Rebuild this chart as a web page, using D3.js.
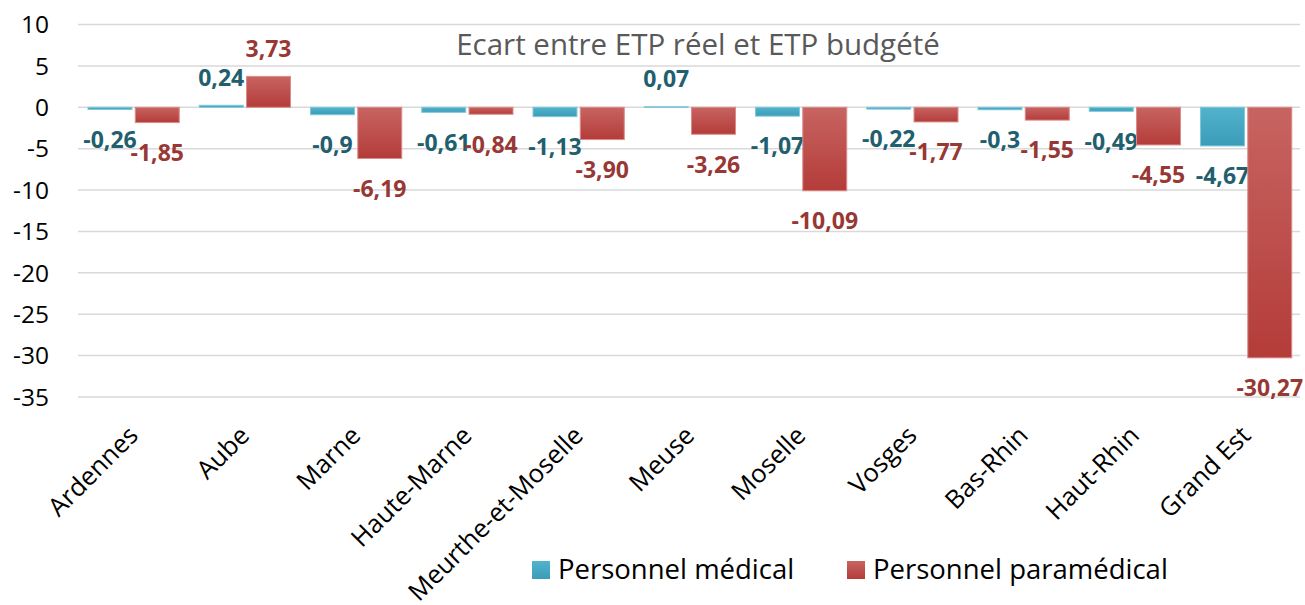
<!DOCTYPE html>
<html>
<head>
<meta charset="utf-8">
<script src="https://cdn.jsdelivr.net/npm/d3@7"></script>
<style>
  body { margin: 0; background: #fff; }
  svg { display: block; font-family: "Open Sans", sans-serif; }
</style>
</head>
<body>
<div id="chart"></div>
<script>
// data
var categories = ["Ardennes", "Aube", "Marne", "Haute-Marne", "Meurthe-et-Moselle",
  "Meuse", "Moselle", "Vosges", "Bas-Rhin", "Haut-Rhin", "Grand Est"];
var seriesNames = ["Personnel médical", "Personnel paramédical"];
var medical = [-0.26, 0.24, -0.9, -0.61, -1.13, 0.07, -1.07, -0.22, -0.3, -0.49, -4.67];
var paramedical = [-1.85, 3.73, -6.19, -0.84, -3.90, -3.26, -10.09, -1.77, -1.55, -4.55, -30.27];
// labels as they are printed (Excel keeps source formatting)
var medicalLabels = ["-0,26", "0,24", "-0,9", "-0,61", "-1,13", "0,07", "-1,07", "-0,22", "-0,3", "-0,49", "-4,67"];
var paramedicalLabels = ["-1,85", "3,73", "-6,19", "-0,84", "-3,90", "-3,26", "-10,09", "-1,77", "-1,55", "-4,55", "-30,27"];
var yTicks = [10, 5, 0, -5, -10, -15, -20, -25, -30, -35];

var width = 1305, height = 605;

var svg = d3.select("#chart").append("svg")
  .attr("width", width)
  .attr("height", height);

var defs = svg.append("defs");
function grad(id, top, bottom) {
  var g = defs.append("linearGradient").attr("id", id)
    .attr("x1", 0).attr("y1", 0).attr("x2", 0).attr("y2", 1);
  g.append("stop").attr("offset", "0%").attr("stop-color", top);
  g.append("stop").attr("offset", "100%").attr("stop-color", bottom);
}
grad("gBlue", "#52B3CC", "#3A9CB8");
grad("gRed", "#C76461", "#B43C39");

var y = d3.scaleLinear().domain([-35, 10]).range([397, 24.5]);
var x0 = d3.scaleBand().domain(categories).range([78, 1301.75]);
var x1 = d3.scaleBand().domain(seriesNames)
  .range([10, x0.bandwidth() - 10]).paddingInner(0.07);

// gridlines
svg.append("g").selectAll("line")
  .data(yTicks)
  .enter().append("line")
  .attr("x1", 78).attr("x2", 1300)
  .attr("y1", function(d) { return y(d); })
  .attr("y2", function(d) { return y(d); })
  .attr("stroke", "#D9D9D9")
  .attr("stroke-width", 1.5);

// y tick labels
svg.append("g").selectAll("text")
  .data(yTicks)
  .enter().append("text")
  .attr("x", 49)
  .attr("y", function(d) { return y(d); })
  .attr("dy", "0.36em")
  .attr("text-anchor", "end")
  .style("font-size", "24.5px")
  .attr("fill", "#000")
  .text(function(d) { return d; });

// title
svg.append("text")
  .attr("x", 698).attr("y", 55)
  .attr("text-anchor", "middle")
  .style("font-size", "29.5px")
  .attr("fill", "#595959")
  .text("Ecart entre ETP réel et ETP budgété");

var series = [
  { name: seriesNames[0], values: medical, labels: medicalLabels, fill: "url(#gBlue)", stroke: "#7FC8DB", labelColor: "#215E6E" },
  { name: seriesNames[1], values: paramedical, labels: paramedicalLabels, fill: "url(#gRed)", stroke: "#D98C8A", labelColor: "#983835" }
];

series.forEach(function(s) {
  var g = svg.append("g");
  g.selectAll("rect")
    .data(s.values)
    .enter().append("rect")
    .attr("x", function(d, i) { return x0(categories[i]) + x1(s.name); })
    .attr("width", x1.bandwidth())
    .attr("y", function(d) { return y(Math.max(0, d)); })
    .attr("height", function(d) { return Math.abs(y(d) - y(0)); })
    .attr("fill", s.fill)
    .attr("stroke", s.stroke)
    .attr("stroke-width", 1);

  g.selectAll("text")
    .data(s.values)
    .enter().append("text")
    .attr("x", function(d, i) { return x0(categories[i]) + x1(s.name) + x1.bandwidth() / 2; })
    .attr("y", function(d) { return d < 0 ? y(d) + 30 : y(d) - 28; })
    .attr("dy", "0.36em")
    .attr("text-anchor", "middle")
    .style("font-size", "23px")
    .style("font-weight", "bold")
    .attr("fill", s.labelColor)
    .text(function(d, i) { return s.labels[i]; });
});

// category labels, rotated
svg.append("g").selectAll("text")
  .data(categories)
  .enter().append("text")
  .attr("transform", function(d) {
    return "translate(" + (x0(d) + x0.bandwidth() / 2 + 6) + ",437) rotate(-45)";
  })
  .attr("text-anchor", "end")
  .style("font-size", "25.5px")
  .attr("fill", "#000")
  .text(function(d) { return d; });

// legend
var legend = svg.append("g");
var legendItems = [
  { name: seriesNames[0], fill: "url(#gBlue)", x: 532 },
  { name: seriesNames[1], fill: "url(#gRed)", x: 847 }
];
legend.selectAll("rect")
  .data(legendItems)
  .enter().append("rect")
  .attr("x", function(d) { return d.x; })
  .attr("y", 561)
  .attr("width", 18).attr("height", 18)
  .attr("fill", function(d) { return d.fill; });
legend.selectAll("text")
  .data(legendItems)
  .enter().append("text")
  .attr("x", function(d) { return d.x + 26; })
  .attr("y", 579)
  .style("font-size", "27.5px")
  .attr("fill", "#000")
  .text(function(d) { return d.name; });
</script>
</body>
</html>
